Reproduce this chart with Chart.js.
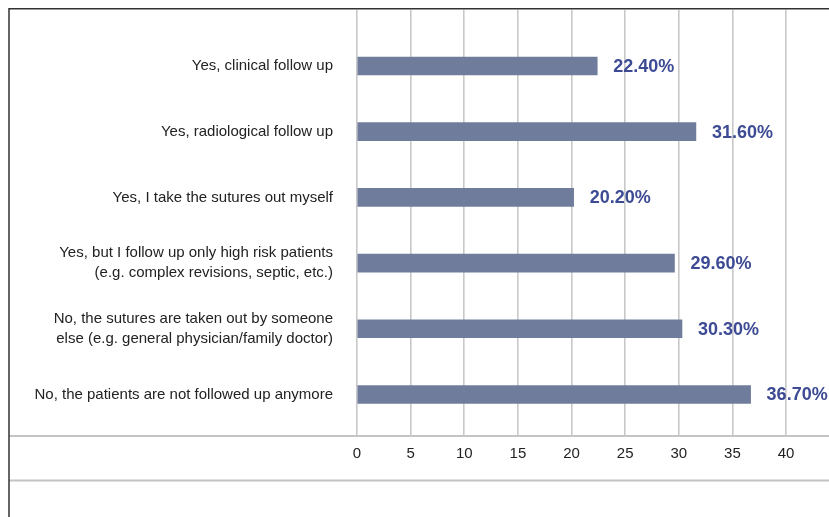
<!DOCTYPE html>
<html>
<head>
<meta charset="utf-8">
<script src="https://cdn.jsdelivr.net/npm/chart.js@4.4.1/dist/chart.umd.min.js"></script>
<style>
  html, body { margin: 0; padding: 0; background: #fff; }
  #wrap { position: relative; width: 829px; height: 517px; }
</style>
</head>
<body>
<div id="wrap"><canvas id="chart" width="829" height="517"></canvas></div>
<script>
// ===== Data =====
const answers = [
  ["Yes, clinical follow up"],
  ["Yes, radiological follow up"],
  ["Yes, I take the sutures out myself"],
  ["Yes, but I follow up only high risk patients", "(e.g. complex revisions, septic, etc.)"],
  ["No, the sutures are taken out by someone", "else (e.g. general physician/family doctor)"],
  ["No, the patients are not followed up anymore"]
];
const shares = [22.4, 31.6, 20.2, 29.6, 30.3, 36.7];
const shareLabels = ["22.40%", "31.60%", "20.20%", "29.60%", "30.30%", "36.70%"];
const xTicks = [0, 5, 10, 15, 20, 25, 30, 35, 40];

const FONT = "'Liberation Sans', Arial, sans-serif";

// ===== Frame + table rules =====
const framePlugin = {
  id: "frame",
  beforeDraw(chart) {
    const ctx = chart.ctx;
    const W = chart.width, H = chart.height;
    ctx.save();
    ctx.fillStyle = "#fff";
    ctx.fillRect(0, 0, W, H);
    // row separators
    ctx.strokeStyle = "#c4c4c4";
    ctx.lineWidth = 2;
    const bottom = chart.chartArea.bottom;
    [bottom, 480.5].forEach(y => {
      ctx.beginPath(); ctx.moveTo(9, y); ctx.lineTo(W, y); ctx.stroke();
    });
    // outer border (top + left)
    ctx.strokeStyle = "#333";
    ctx.lineWidth = 1.5;
    ctx.beginPath();
    ctx.moveTo(9, H); ctx.lineTo(9, 8.7); ctx.lineTo(W, 8.7);
    ctx.stroke();
    ctx.restore();
  }
};

// ===== Value labels =====
const valuePlugin = {
  id: "values",
  afterDatasetsDraw(chart) {
    const ctx = chart.ctx;
    const meta = chart.getDatasetMeta(0);
    ctx.save();
    ctx.font = "bold 18px " + FONT;
    ctx.fillStyle = "#3d4b94";
    ctx.textBaseline = "middle";
    ctx.textAlign = "left";
    meta.data.forEach((bar, i) => {
      ctx.fillText(shareLabels[i], bar.x + 16, bar.y + 1);
    });
    ctx.restore();
  }
};

new Chart(document.getElementById("chart"), {
  type: "bar",
  data: {
    datasets: [{
      data: shares.map((v, i) => ({ x: v, y: i })),
      backgroundColor: "#6f7c9b",
      borderWidth: 0,
      barThickness: 18
    }]
  },
  options: {
    indexAxis: "y",
    responsive: false,
    animation: false,
    events: [],
    layout: { padding: { top: 10, right: 43, left: 0, bottom: 0 } },
    plugins: { legend: { display: false }, tooltip: { enabled: false } },
    scales: {
      x: {
        type: "linear",
        min: 0, max: 40,
        afterBuildTicks: s => { s.ticks = xTicks.map(v => ({ value: v })); },
        grid: { color: "#c8c8c8", lineWidth: 1.6, drawTicks: false },
        border: { display: false },
        ticks: { color: "#222", font: { family: FONT, size: 15 }, padding: 9 },
        afterFit: s => { s.height = 81; }
      },
      y: {
        type: "linear",
        reverse: true,
        offset: false,
        min: -0.852, max: 5.632,
        afterBuildTicks: s => { s.ticks = answers.map((_, i) => ({ value: i })); },
        grid: { display: false, drawTicks: false },
        border: { display: false },
        ticks: {
          color: "#222",
          font: { family: FONT, size: 15, lineHeight: 1.3 },
          padding: 24,
          callback: v => answers[v]
        },
        afterFit: s => { s.width = 357; s.paddingTop = 0; s.paddingBottom = 0; }
      }
    }
  },
  plugins: [framePlugin, valuePlugin]
});
</script>
</body>
</html>
